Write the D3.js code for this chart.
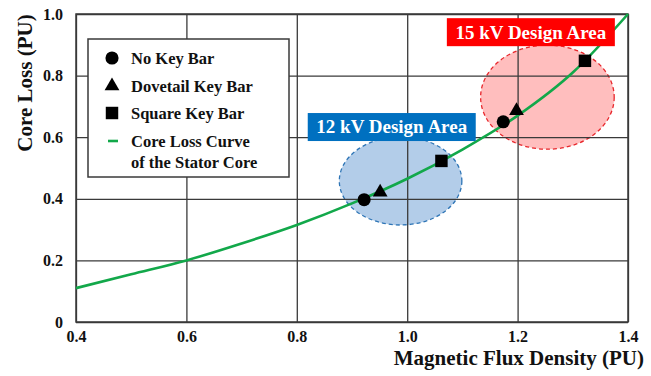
<!DOCTYPE html>
<html>
<head>
<meta charset="utf-8">
<script src="https://cdn.jsdelivr.net/npm/d3@7"></script>
<style>
  body { margin: 0; background: #fff; }
  svg text { font-family: "Liberation Serif", "DejaVu Serif", serif !important; font-weight: bold; }
</style>
</head>
<body>
<svg id="chart"></svg>
<script>
const width = 651, height = 376, margin = { top: 14, right: 23, bottom: 54, left: 76 };
const plotWidth = width - margin.left - margin.right;
const plotHeight = height - margin.top - margin.bottom;

// Axis ticks
const xTicks = [0.4, 0.6, 0.8, 1.0, 1.2, 1.4];
const yTicks = [0, 0.2, 0.4, 0.6, 0.8, 1.0];

// Core loss curve of the stator core
const curveB = [0.4, 0.5, 0.6, 0.7, 0.8, 0.9, 1.0, 1.1, 1.2, 1.3, 1.4];
const curveLoss = [0.11, 0.155, 0.20, 0.255, 0.315, 0.385, 0.465, 0.56, 0.67, 0.81, 1.0];

// Measured points: 12 kV then 15 kV
const noKeyBar = [[0.922, 0.397], [1.174, 0.650]];
const dovetailKeyBar = [[0.951, 0.421], [1.198, 0.686]];
const squareKeyBar = [[1.062, 0.523], [1.322, 0.848]];

// Design areas (centre and radii in axis units)
const areaLabels = ["12 kV Design Area", "15 kV Design Area"];
const areaCenters = [[0.988, 0.458], [1.254, 0.730]];
const areaRadii = [[0.111, 0.143], [0.121, 0.169]];
const areaLabelAt = [[0.972, 0.633], [1.224, 0.941]];

const legendLabels = ["No Key Bar", "Dovetail Key Bar", "Square Key Bar", "Core Loss Curve", "of the Stator Core"];

const gridColor = "#3a3a3a";
const green = "#12a84a";

const svg = d3.select("#chart")
    .attr("width", width)
    .attr("height", height);

const g = svg.append("g")
    .attr("transform", `translate(${margin.left},${margin.top})`);

const xScale = d3.scaleLinear().domain([0.4, 1.4]).range([0, plotWidth]);
const yScale = d3.scaleLinear().domain([0, 1.0]).range([plotHeight, 0]);

// Design area ellipses (under the grid)
const areaFill = ["#b3cde9", "#ffbebe"];
const areaStroke = ["#2e75b6", "#e8262b"];
areaCenters.forEach((c, i) => {
    g.append("ellipse")
        .attr("cx", xScale(c[0]))
        .attr("cy", yScale(c[1]))
        .attr("rx", xScale(c[0] + areaRadii[i][0]) - xScale(c[0]))
        .attr("ry", yScale(c[1] - areaRadii[i][1]) - yScale(c[1]))
        .attr("fill", areaFill[i])
        .attr("stroke", areaStroke[i])
        .attr("stroke-width", 1.3)
        .attr("stroke-dasharray", "4,3");
});

// Gridlines and axes
const xAxis = g.append("g")
    .attr("transform", `translate(0,${plotHeight})`)
    .call(d3.axisBottom(xScale).tickValues(xTicks).tickSize(-plotHeight).tickPadding(9)
        .tickFormat(d => d.toFixed(1)));
const yAxis = g.append("g")
    .call(d3.axisLeft(yScale).tickValues(yTicks).tickSize(-plotWidth).tickPadding(13)
        .tickFormat(d => d === 0 ? "0" : d.toFixed(1)));

[xAxis, yAxis].forEach(ax => {
    ax.attr("font-family", null);
    ax.select(".domain").remove();
    ax.selectAll(".tick line").attr("stroke", gridColor).attr("stroke-width", 1.3);
    ax.selectAll(".tick text")
        .attr("fill", "#111")
        .style("font-size", "16px");
});

// Border
g.append("rect")
    .attr("width", plotWidth)
    .attr("height", plotHeight)
    .attr("fill", "none")
    .attr("stroke", gridColor)
    .attr("stroke-width", 1.5);

// Curve
const line = d3.line()
    .x((d, i) => xScale(curveB[i]))
    .y(d => yScale(d))
    .curve(d3.curveMonotoneX);

g.append("path")
    .attr("d", line(curveLoss))
    .attr("fill", "none")
    .attr("stroke", green)
    .attr("stroke-width", 2.6);

// Markers
const circleSym = d3.symbol().type(d3.symbolCircle).size(135);
const triSym = d3.symbol().type(d3.symbolTriangle).size(95);
const squareSym = d3.symbol().type(d3.symbolSquare).size(155);

function drawMarkers(points, sym) {
    g.selectAll(null)
        .data(points)
        .enter()
        .append("path")
        .attr("d", sym)
        .attr("transform", d => `translate(${xScale(d[0])},${yScale(d[1])})`)
        .attr("fill", "#000");
}
drawMarkers(noKeyBar, circleSym);
drawMarkers(dovetailKeyBar, triSym);
drawMarkers(squareKeyBar, squareSym);

// Design area labels
const labelFill = ["#0070c0", "#ff0000"];
areaLabels.forEach((label, i) => {
    const cx = xScale(areaLabelAt[i][0]);
    const cy = yScale(areaLabelAt[i][1]);
    g.append("rect")
        .attr("x", cx - 84)
        .attr("y", cy - 14)
        .attr("width", 168)
        .attr("height", 28)
        .attr("fill", labelFill[i]);
    g.append("text")
        .attr("x", cx)
        .attr("y", cy)
        .attr("dy", "0.34em")
        .attr("text-anchor", "middle")
        .attr("fill", "#fff")
        .style("font-size", "19px")
        .text(label);
});

// Legend
const legend = svg.append("g").attr("transform", "translate(88,39)");
legend.append("rect")
    .attr("width", 201)
    .attr("height", 138)
    .attr("fill", "#fff")
    .attr("stroke", gridColor)
    .attr("stroke-width", 1.5);

const rowY = [19, 47, 74, 102, 123];
legend.append("path").attr("d", circleSym).attr("transform", `translate(24,${rowY[0]})`);
legend.append("path").attr("d", triSym).attr("transform", `translate(24,${rowY[1]})`);
legend.append("path").attr("d", squareSym).attr("transform", `translate(24,${rowY[2]})`);
legend.append("line")
    .attr("x1", 20).attr("x2", 30)
    .attr("y1", rowY[3]).attr("y2", rowY[3])
    .attr("stroke", green)
    .attr("stroke-width", 2.6);

legend.selectAll(".lbl")
    .data(legendLabels)
    .enter()
    .append("text")
    .attr("class", "lbl")
    .attr("x", 43)
    .attr("y", (d, i) => rowY[i])
    .attr("dy", "0.35em")
    .attr("fill", "#111")
    .style("font-size", "16.5px")
    .text(d => d);

// Axis titles
svg.append("text")
    .attr("x", 644)
    .attr("y", 365)
    .attr("text-anchor", "end")
    .attr("fill", "#111")
    .style("font-size", "21px")
    .text("Magnetic Flux Density (PU)");

svg.append("text")
    .attr("transform", "translate(32,83) rotate(-90)")
    .attr("text-anchor", "middle")
    .attr("fill", "#111")
    .style("font-size", "21px")
    .text("Core Loss (PU)");
</script>
</body>
</html>
